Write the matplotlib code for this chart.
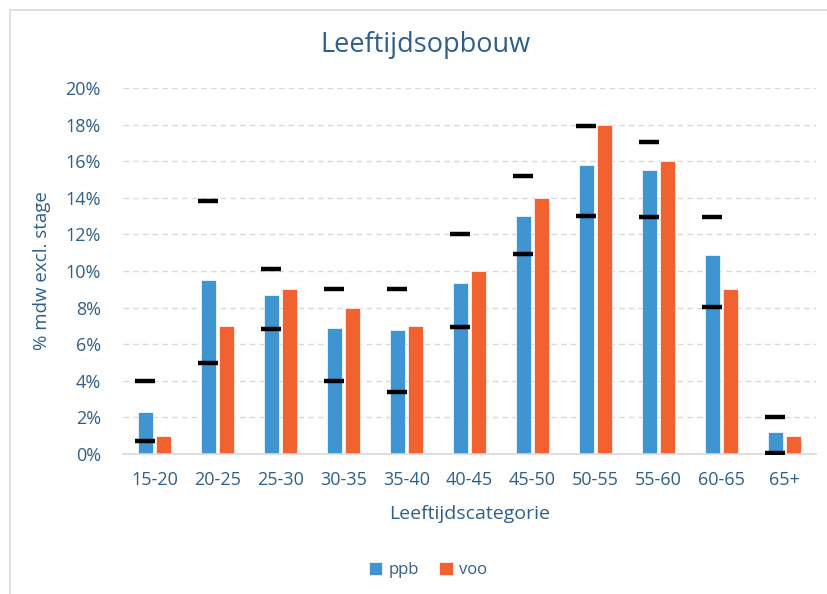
import numpy as np
import matplotlib
matplotlib.use("Agg")
import matplotlib.pyplot as plt
from matplotlib.patches import Rectangle
from matplotlib.ticker import PercentFormatter

# data (percent)
categories = ["15-20", "20-25", "25-30", "30-35", "35-40", "40-45",
              "45-50", "50-55", "55-60", "60-65", "65+"]
ppb = [2.3, 9.5, 8.7, 6.9, 6.8, 9.35, 13.0, 15.8, 15.5, 10.85, 1.2]
voo = [1, 7, 9, 8, 7, 10, 14, 18, 16, 9, 1]
ppb_high = [4.0, 13.8, 10.1, 9.0, 9.0, 12.0, 15.2, 17.9, 17.05, 12.95, 2.0]
ppb_low = [0.7, 4.95, 6.85, 4.0, 3.4, 6.95, 10.95, 13.0, 12.95, 8.05, 0.05]

blue = "#3F95D2"
orange = "#F26130"
txt = "#2E5F8A"

plt.rcParams['font.family'] = ['Open Sans', 'DejaVu Sans']

fig = plt.figure(figsize=(8.27, 5.94), dpi=100)
# light border round the chart area
fig.patches.append(Rectangle((10 / 827, -0.01), 1.0, 1 - 10 / 594 + 0.01,
                             transform=fig.transFigure, fill=False,
                             edgecolor="#D9D9D9", linewidth=1.2))

ax = fig.add_axes([123 / 827, 1 - 454 / 594, (816 - 123) / 827, (454 - 88) / 594])

x = np.arange(len(categories))
w = 0.23
off = 0.143
ax.bar(x - off, ppb, w, color=blue, edgecolor="white", linewidth=0.5, label="ppb", zorder=2)
ax.bar(x + off, voo, w, color=orange, edgecolor="white", linewidth=0.5, label="voo", zorder=2)

# black dash markers on the ppb bars
ax.plot(x - off, ppb_high, linestyle="none", marker="_", markersize=15,
        markeredgewidth=3.2, color="black", zorder=3)
ax.plot(x - off, ppb_low, linestyle="none", marker="_", markersize=15,
        markeredgewidth=3.2, color="black", zorder=3)

ax.set_xlim(-0.5, len(categories) - 0.5)
ax.set_ylim(0, 20)
ax.set_yticks(np.arange(0, 21, 2))
ax.yaxis.set_major_formatter(PercentFormatter(decimals=0))
ax.set_xticks(x)
ax.set_xticklabels(categories)
ax.tick_params(axis="both", length=0, labelsize=13, labelcolor=txt)
ax.tick_params(axis="x", pad=12)
ax.tick_params(axis="y", pad=16)

ax.grid(axis="y", linestyle=(0, (4, 3)), color="#D9D9D9", linewidth=1, zorder=0)
for s in ["top", "right", "left"]:
    ax.spines[s].set_visible(False)
ax.spines["bottom"].set_color("#D9D9D9")
ax.spines["bottom"].set_linewidth(1.2)

ax.set_xlabel("Leeftijdscategorie", fontsize=14, color=txt, labelpad=12)
ax.set_ylabel("% mdw excl. stage", fontsize=13.5, color=txt, labelpad=10)

fig.text(425 / 827, 1 - 45 / 594, "Leeftijdsopbouw", ha="center", va="center",
         fontsize=19.5, color=txt)

fig.legend(loc="center", bbox_to_anchor=(428 / 827, 1 - 570 / 594), ncol=2,
           frameon=False, fontsize=12, labelcolor=txt, handlelength=0.8,
           handleheight=0.8, handletextpad=0.4, columnspacing=1.2)

fig.savefig("out.png", dpi=100)
